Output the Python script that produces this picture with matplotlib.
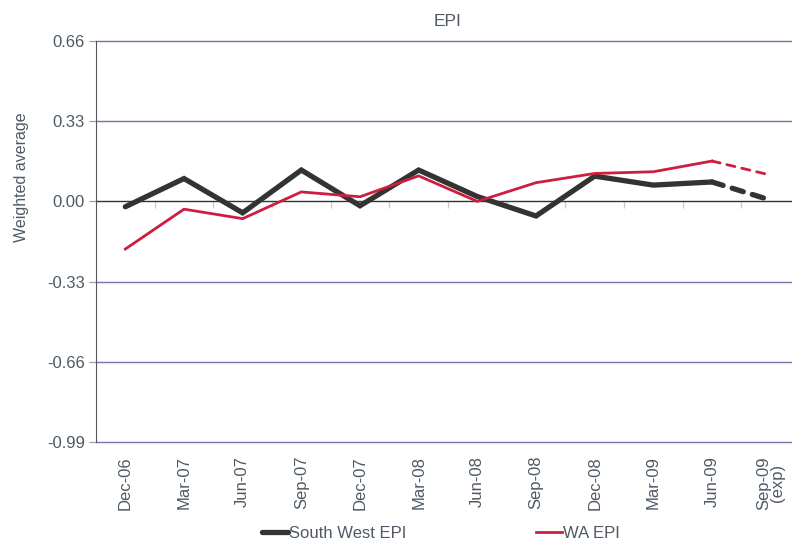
"""EPI weighted average line chart."""

import matplotlib
matplotlib.use("Agg")
import matplotlib.pyplot as plt
import numpy as np

quarters = ["Dec-06", "Mar-07", "Jun-07", "Sep-07", "Dec-07", "Mar-08",
            "Jun-08", "Sep-08", "Dec-08", "Mar-09", "Jun-09", "Sep-09\n(exp)"]
south_west = [-0.022, 0.094, -0.047, 0.129, -0.018, 0.129,
              0.02, -0.06, 0.104, 0.067, 0.08, 0.005]
wa = [-0.196, -0.032, -0.071, 0.039, 0.019, 0.105,
      0.0, 0.077, 0.115, 0.122, 0.166, 0.108]
y_ticks = [0.66, 0.33, 0.0, -0.33, -0.66, -0.99]

plt.rcParams["font.family"] = ["Liberation Sans", "DejaVu Sans"]
TEXT = "#4f5964"
GRID = "#7474a8"
DARK = "#333333"
RED = "#cc1f3d"

fig = plt.figure(figsize=(7.92, 5.44), dpi=100)
ax = fig.add_axes([96 / 792, 1 - 442 / 544, 704 / 792, 401 / 544])

x = np.arange(len(quarters))
n = len(quarters) - 1  # last point is an expectation, drawn dashed

ax.plot(x[:n], south_west[:n], color=DARK, lw=3.8, solid_capstyle="round",
        solid_joinstyle="miter", label="South West EPI", zorder=3)
ax.plot(x[n - 1:], south_west[n - 1:], color=DARK, lw=3.8, ls=(0, (2.2, 1.8)),
        dash_capstyle="round", zorder=3)
ax.plot(x[:n], wa[:n], color=RED, lw=2.0, solid_joinstyle="miter",
        label="WA EPI", zorder=4)
ax.plot(x[n - 1:], wa[n - 1:], color=RED, lw=2.0, ls=(0, (3, 2.5)),
        dash_capstyle="round", zorder=4)

ax.set_xlim(-0.5, len(quarters) - 0.5)
ax.set_ylim(-0.99, 0.66)
ax.set_yticks(y_ticks)
ax.set_yticklabels([f"{v:.2f}" for v in y_ticks])
for v in y_ticks:
    ax.axhline(v, color=DARK if v == 0 else GRID, lw=1.0, zorder=1,
               clip_on=False)

for side in ["top", "right", "bottom"]:
    ax.spines[side].set_visible(False)
ax.spines["left"].set_color("#555555")
ax.spines["left"].set_zorder(2)
ax.tick_params(axis="y", colors="#999999", labelcolor=TEXT, labelsize=12,
               length=5, width=0.8, pad=3)

ax.set_xticks(x)
ax.set_xticklabels(quarters, rotation=90, va="top", ha="center",
                   linespacing=0.9)
ax.tick_params(axis="x", length=0, pad=10, labelcolor=TEXT, labelsize=12)

# category separator ticks hanging down from the zero line
sec = ax.secondary_xaxis(0.99 / 1.65)
sec.xaxis.set_ticks_position("bottom")
sec.set_xticks(x[:-1] + 0.5)
sec.set_xticklabels([])
sec.tick_params(length=5, width=1.0, color="#cccccc", direction="out")
for sp in sec.spines.values():
    sp.set_visible(False)

ax.set_ylabel("Weighted average", color=TEXT, fontsize=11.5)
ax.yaxis.set_label_coords(-0.095, 0.66)
ax.set_title("EPI", color=TEXT, fontsize=12.5, pad=11)

fig.legend(loc="center", bbox_to_anchor=(0.557, 0.02), ncol=2, frameon=False,
           handlelength=1.55, handletextpad=0.05, columnspacing=7.8,
           fontsize=12, labelcolor=TEXT)

fig.savefig("out.png", dpi=100)
